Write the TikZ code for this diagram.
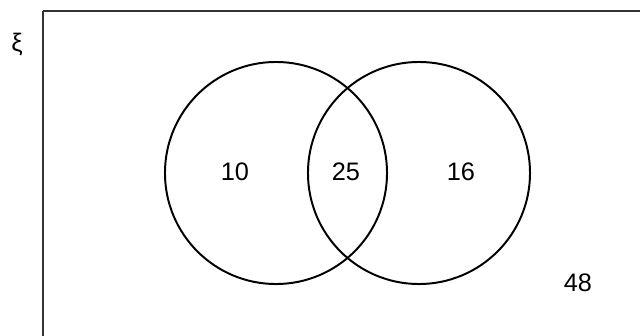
\documentclass[tikz,border=0pt]{standalone}
\usepackage{fontspec}
\setmainfont{Liberation Sans}
\usetikzlibrary{positioning}

\begin{document}
\begin{tikzpicture}[
x=0.025cm, y=-0.025cm,
setcircle/.style={draw, circle, line width=1.4pt, minimum size=5.55cm, inner sep=0pt},
count/.style={font=\fontsize{18}{21}\selectfont, inner sep=0pt},
frame/.style={draw=black!80, line width=1.8pt}
]
\useasboundingbox (0,0) rectangle (640,336);
\draw[frame] (43,11) -- (641,11);
\draw[frame] (43,11) -- (43,337);

\node[setcircle] (A) at (276,173) {};
\node[setcircle] (B) at (419,173) {};

\node[count] (univ) at (17,45) {ξ};
\node[count] (onlyA) at (235,172) {10};
\node[count] (both) at (346,172) {25};
\node[count] (onlyB) at (461,172) {16};
\node[count] (outside) at (578,283) {48};
\end{tikzpicture}
\end{document}
